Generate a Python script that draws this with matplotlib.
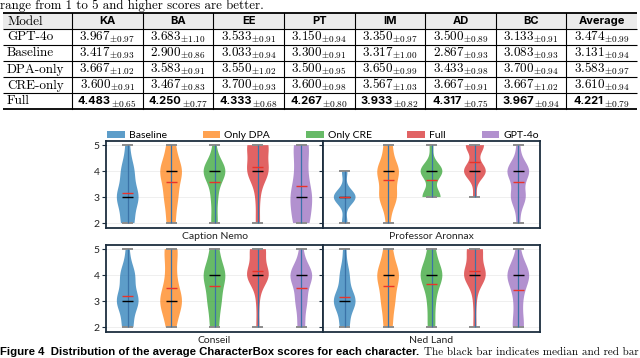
import matplotlib
matplotlib.use('Agg')
import matplotlib.pyplot as plt
from matplotlib.patches import Patch, Rectangle

plt.rcParams['mathtext.fontset'] = 'cm'

# ---- table data ----
table_models = ['GPT-4o', 'Baseline', 'DPA-only', 'CRE-only', 'Full']
table_cols = ['KA', 'BA', 'EE', 'PT', 'IM', 'AD', 'BC', 'Average']
table_means = [
    [3.967, 3.683, 3.533, 3.150, 3.350, 3.500, 3.133, 3.474],
    [3.417, 2.900, 3.033, 3.300, 3.317, 2.867, 3.083, 3.131],
    [3.667, 3.583, 3.550, 3.500, 3.650, 3.433, 3.700, 3.583],
    [3.600, 3.467, 3.700, 3.600, 3.567, 3.667, 3.667, 3.610],
    [4.483, 4.250, 4.333, 4.267, 3.933, 4.317, 3.967, 4.221],
]
table_stds = [
    [0.97, 1.10, 0.91, 0.94, 0.97, 0.89, 0.91, 0.99],
    [0.93, 0.86, 0.94, 0.91, 1.00, 0.93, 0.93, 0.94],
    [1.02, 0.91, 1.02, 0.95, 0.99, 0.98, 0.94, 0.97],
    [0.91, 0.83, 0.93, 0.98, 1.03, 0.91, 1.02, 0.94],
    [0.65, 0.77, 0.68, 0.80, 0.82, 0.75, 0.94, 0.79],
]
bold_row = 'Full'

# ---- violin data (scores per model, order: Baseline, Only DPA, Only CRE, Full, GPT-4o) ----
groups = ['Baseline', 'Only DPA', 'Only CRE', 'Full', 'GPT-4o']
group_colors = ['#1f77b4', '#ff7f0e', '#2ca02c', '#d62728', '#9467bd']
characters = ['Caption Nemo', 'Professor Aronnax', 'Conseil', 'Ned Land']

caption_nemo = [
    [2, 2, 2, 3, 3, 3, 3, 3, 4, 4, 4, 5],
    [2, 2, 3, 3, 3, 4, 4, 4, 4, 4, 5, 5],
    [2, 2, 3, 3, 4, 4, 4, 4, 4, 4, 4, 5],
    [2, 3, 4, 4, 4, 4, 4, 5, 5, 5, 5, 5],
    [2, 2, 2, 3, 3, 3, 3, 4, 4, 5, 5, 5],
]
professor_aronnax = [
    [2, 2, 3, 3, 3, 3, 3, 3, 3, 3, 4, 4],
    [2, 3, 3, 3, 3, 4, 4, 4, 4, 4, 5, 5],
    [3, 3, 3, 3, 3, 4, 4, 4, 4, 4, 4, 5],
    [3, 4, 4, 4, 4, 4, 4, 5, 5, 5, 5, 5],
    [2, 3, 3, 3, 3, 4, 4, 4, 4, 4, 4, 5],
]
conseil = [
    [2, 2, 2, 3, 3, 3, 3, 3, 3, 4, 4, 4, 4, 5],
    [2, 2, 3, 3, 3, 3, 3, 4, 4, 5, 5, 5],
    [2, 2, 3, 3, 3, 4, 4, 4, 4, 4, 5, 5],
    [2, 3, 4, 4, 4, 4, 4, 4, 4, 5, 5, 5, 5, 5],
    [2, 2, 3, 3, 3, 4, 4, 4, 4, 4, 4, 5],
]
ned_land = [
    [2, 2, 2, 3, 3, 3, 3, 3, 3, 3, 4, 4, 4, 5],
    [2, 2, 3, 3, 3, 4, 4, 4, 4, 4, 5, 5],
    [2, 2, 3, 3, 4, 4, 4, 4, 4, 4, 5, 5],
    [2, 3, 4, 4, 4, 4, 4, 4, 4, 5, 5, 5, 5, 5],
    [2, 2, 2, 3, 3, 4, 4, 4, 4, 4, 4, 5],
]
char_data = [caption_nemo, professor_aronnax, conseil, ned_land]

W, H = 640, 358
fig = plt.figure(figsize=(W / 100, H / 100), dpi=100, facecolor='white')
renderer = fig.canvas.get_renderer()

# page layer in pixel coordinates (y down)
page = fig.add_axes([0, 0, 1, 1], zorder=0)
page.set_xlim(0, W)
page.set_ylim(H, 0)
page.axis('off')

serif = 'cmr10'
sans = 'Lato'

# first line of text above the table
page.text(0, 9, 'range from 1 to 5 and higher scores are better.', family=serif,
          fontsize=9.3, va='baseline', ha='left')

# ---- table ----
t_left, t_right = 3, 637
model_w = 69
col_w = (t_right - t_left - model_w) / len(table_cols)
row_h = 16
t_top = 13
n_rows = len(table_models) + 1
t_bot = t_top + row_h * n_rows
col_edges = [t_left + model_w + col_w * i for i in range(len(table_cols) + 1)]

page.add_patch(Rectangle((t_left, t_top), t_right - t_left, row_h,
                         facecolor='#ebebeb', edgecolor='none'))
for i in range(n_rows + 1):
    y = t_top + row_h * i
    lw = 1.3 if i in (0, n_rows) else 0.8
    page.plot([t_left, t_right], [y, y], color='black', lw=lw, solid_capstyle='butt')
for x in col_edges[:-1]:
    page.plot([x, x], [t_top, t_bot], color='black', lw=0.8)

page.text(t_left + 4, t_top + row_h / 2 + 4, 'Model', family=serif, fontsize=9.5,
          va='baseline', ha='left')
for j, c in enumerate(table_cols):
    cx = col_edges[j] + col_w / 2
    page.text(cx, t_top + row_h / 2 + 3.5, c, family='Inter', fontweight='bold',
              fontsize=8, va='baseline', ha='center')

for i, m in enumerate(table_models):
    yb = t_top + row_h * (i + 1) + row_h / 2 + 3.5
    page.text(t_left + 4, yb, m, family=serif, fontsize=9.5, va='baseline', ha='left')
    for j in range(len(table_cols)):
        cx = col_edges[j] + col_w / 2
        mean = table_means[i][j]
        sd = table_stds[i][j]
        if m == bold_row:
            t1 = page.text(0, yb, f'{mean:.3f}', family='Inter', fontweight='bold',
                           fontsize=8, va='baseline', ha='left')
            t2 = page.text(0, yb + 2.5, rf'$\pm{sd:.2f}$', fontsize=6.8,
                           va='baseline', ha='left')
            w1 = t1.get_window_extent(renderer).width
            w2 = t2.get_window_extent(renderer).width
            x0 = cx - (w1 + w2 + 0.5) / 2
            t1.set_x(x0)
            t2.set_x(x0 + w1 + 0.5)
        else:
            page.text(cx, yb, rf'${mean:.3f}_{{\pm{sd:.2f}}}$', fontsize=9.5,
                      va='baseline', ha='center')

# ---- violin panels ----
panel_px = [(106, 141), (323, 141), (106, 245), (323, 245)]
pw, ph = 217, 87
spine_col = '#1c2e3f'
positions = list(range(1, len(groups) + 1))

for k, (name, data) in enumerate(zip(characters, char_data)):
    px, py = panel_px[k]
    ax = fig.add_axes([px / W, (H - py - ph) / H, pw / W, ph / H], zorder=2)
    ax.set_facecolor('white')
    parts = ax.violinplot(data, positions=positions, widths=0.5, showmeans=True,
                          showmedians=True, showextrema=True, bw_method=0.48)
    for body, col in zip(parts['bodies'], group_colors):
        body.set_facecolor(col)
        body.set_edgecolor('none')
        body.set_alpha(0.72)
        body.set_zorder(2)
    parts['cbars'].set_color('#3b73a8')
    parts['cbars'].set_linewidth(0.9)
    parts['cbars'].set_zorder(3)
    for key in ('cmins', 'cmaxes'):
        parts[key].set_color('#8c8c8c')
        parts[key].set_linewidth(1.4)
        parts[key].set_zorder(3)
    parts['cmedians'].set_color('black')
    parts['cmedians'].set_linewidth(1.0)
    parts['cmedians'].set_zorder(4)
    parts['cmeans'].set_color('#e8332a')
    parts['cmeans'].set_linewidth(1.0)
    parts['cmeans'].set_zorder(5)

    ax.set_xlim(0.5, len(groups) + 0.5)
    ax.set_ylim(1.81, 5.16)
    ax.set_yticks([2, 3, 4, 5])
    ax.set_xticks([])
    ax.grid(axis='y', color='#ececec', lw=0.6)
    ax.set_axisbelow(True)
    for s in ax.spines.values():
        s.set_color(spine_col)
        s.set_linewidth(1.3)
    ax.tick_params(axis='y', length=3, width=0.8, color=spine_col, labelsize=7.5,
                   pad=1.5, labelcolor='#222222')
    for lab in ax.get_yticklabels():
        lab.set_family(sans)
    if k % 2 == 1:
        ax.tick_params(labelleft=False)
    ax.set_xlabel(name, family=sans, fontsize=7.5, labelpad=3, color='#222222')

handles = [Patch(facecolor=c, alpha=0.72, edgecolor='none') for c in group_colors]
fig.legend(handles, groups, loc='lower left', ncol=5, mode='expand', frameon=False,
           bbox_to_anchor=(106 / W, (H - 141) / H, 434 / W, 12 / H),
           prop={'family': sans, 'size': 7.5}, handlelength=1.7, handleheight=0.7,
           handletextpad=0.4, borderaxespad=0, borderpad=0.1)

# ---- caption ----
cap_y = 355
c1 = page.text(0, cap_y, 'Figure 4  Distribution of the average CharacterBox scores for each character.',
               family='Liberation Sans', fontweight='bold', fontsize=8.2,
               va='baseline', ha='left')
w = c1.get_window_extent(renderer).width
page.text(w + 5, cap_y, 'The black bar indicates median and red bar', family=serif,
          fontsize=8.0, va='baseline', ha='left')

fig.savefig('out.png', dpi=100)
